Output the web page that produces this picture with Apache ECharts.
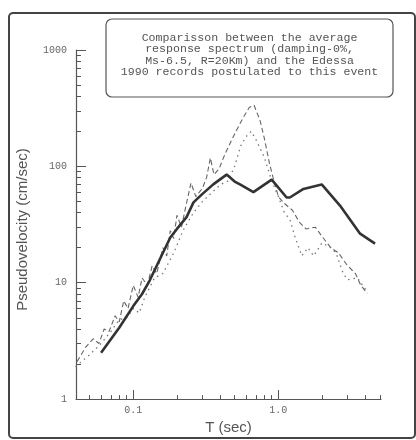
<!DOCTYPE html>
<html>
<head>
<meta charset="utf-8">
<script src="https://cdn.jsdelivr.net/npm/echarts@6/dist/echarts.min.js"></script>
<style>
html, body { margin: 0; padding: 0; background: #fff; }
#main { width: 416px; height: 440px; }
</style>
</head>
<body>
<div id="main"></div>
<script>
// average response spectrum (solid)
var avgPeriods = [0.060, 0.080, 0.100, 0.115, 0.130, 0.149, 0.180, 0.200, 0.233, 0.260, 0.300, 0.356, 0.440, 0.500, 0.544, 0.673, 0.900, 1.140, 1.200, 1.490, 1.990, 2.660, 3.660, 4.640];
var avgVel = [2.5, 4.1, 6.3, 8.0, 10.5, 15.0, 24.5, 29.0, 36.6, 49.0, 58.0, 70.0, 85.0, 74.0, 70.0, 60.0, 77.0, 54.0, 54.0, 64.0, 70.0, 46.0, 26.4, 21.7];

// Edessa 1990 record, first component (dashed)
var recAPeriods = [0.041, 0.047, 0.053, 0.058, 0.063, 0.068, 0.075, 0.080, 0.086, 0.092, 0.100, 0.108, 0.115, 0.125, 0.135, 0.145, 0.160, 0.170, 0.180, 0.190, 0.200, 0.215, 0.230, 0.250, 0.270, 0.300, 0.320, 0.340, 0.360, 0.390, 0.420, 0.450, 0.500, 0.570, 0.630, 0.680, 0.720, 0.750, 0.800, 0.870, 0.920, 1.000, 1.100, 1.250, 1.400, 1.550, 1.800, 2.000, 2.300, 2.600, 3.000, 3.400, 3.700, 4.100];
var recAVel = [2.1, 2.8, 3.3, 3.0, 4.0, 3.8, 5.2, 4.6, 7.0, 6.0, 9.5, 7.5, 11, 9.5, 14, 12, 20, 17, 28, 24, 38, 30, 45, 72, 55, 65, 80, 118, 85, 95, 120, 145, 190, 260, 320, 335, 280, 245, 175, 105, 80, 55, 48, 42, 33, 29, 30, 25, 20, 18, 14, 12, 9.5, 8.1];

// Edessa 1990 record, second component (dotted)
var recBPeriods = [0.040, 0.050, 0.060, 0.070, 0.080, 0.090, 0.100, 0.110, 0.120, 0.140, 0.160, 0.190, 0.220, 0.260, 0.300, 0.350, 0.400, 0.450, 0.500, 0.550, 0.600, 0.650, 0.700, 0.800, 0.900, 1.000, 1.100, 1.200, 1.300, 1.450, 1.600, 1.750, 2.000, 2.300, 2.500, 2.800, 3.000, 3.500, 4.100];
var recBVel = [1.9, 2.4, 3.0, 3.8, 4.8, 5.0, 6.0, 5.5, 7.5, 11, 12, 18, 28, 40, 50, 60, 70, 75, 100, 150, 180, 200, 170, 120, 75, 55, 40, 35, 25, 17, 20, 17, 22, 20, 18, 12, 10.6, 11, 8.4];

// ticks and labels
var xMajorTicks = [0.1, 1];
var xMinorTicks = [0.05, 0.06, 0.07, 0.08, 0.09, 0.2, 0.3, 0.4, 0.5, 0.6, 0.7, 0.8, 0.9, 2, 3, 4, 5];
var yMajorTicks = [1, 10, 100, 1000];
var yMinorTicks = [2, 3, 4, 5, 6, 7, 8, 9, 20, 30, 40, 50, 60, 70, 80, 90, 200, 300, 400, 500, 600, 700, 800, 900];

var titleLines = [
	'Comparisson between the average',
	'response spectrum (damping-0%,',
	'Ms-6.5, R=20Km) and the Edessa',
	'1990 records postulated to this event'
];

function pairs(xs, ys) {
	return xs.map(function(x, i) {
		return [x, ys[i]];
	});
}

var xMin = 0.0403, xMax = 5.1;
var monoFont = '"Liberation Mono", "DejaVu Sans Mono", monospace';
var sansFont = '"Liberation Sans", Arial, sans-serif';

function logAxis(pos, min, max, ticks, tickLen, showLine, showLabel) {
	return {
		type: 'log',
		position: pos,
		min: min,
		max: max,
		logBase: 10,
		axisLine: { show: showLine, lineStyle: { color: '#555', width: 1.2 } },
		axisTick: { show: true, inside: true, length: tickLen, customValues: ticks, lineStyle: { color: '#555', width: 1 } },
		axisLabel: { show: showLabel, customValues: ticks, color: '#666', fontFamily: monoFont, fontSize: 10 },
		splitLine: { show: false },
		minorTick: { show: false }
	};
}

var xMain = logAxis('bottom', xMin, xMax, xMajorTicks, 9, true, true);
xMain.axisLabel.margin = 6;
xMain.axisLabel.formatter = function(v) { return Number(v).toFixed(1); };
xMain.name = 'T (sec)';
xMain.nameLocation = 'middle';
xMain.nameGap = 16;
xMain.nameTextStyle = { color: '#555', fontFamily: sansFont, fontSize: 15 };
var xMinor = logAxis('bottom', xMin, xMax, xMinorTicks, 4, false, false);

var yMain = logAxis('left', 1, 1000, yMajorTicks, 10, true, true);
yMain.axisLabel.margin = 9;
yMain.axisLabel.formatter = function(v) { return String(Math.round(v)); };
yMain.name = 'Pseudovelocity (cm/sec)';
yMain.nameLocation = 'middle';
yMain.nameRotate = 90;
yMain.nameGap = 46;
yMain.nameTextStyle = { color: '#555', fontFamily: sansFont, fontSize: 15, padding: [0, 10, 0, 0] };
var yMinor = logAxis('left', 1, 1000, yMinorTicks, 5, false, false);

var chart = echarts.init(document.getElementById('main'));
chart.setOption({
	backgroundColor: '#fff',
	animation: false,
	grid: { left: 76, right: 35, top: 50, bottom: 36 },
	xAxis: [xMain, xMinor],
	yAxis: [yMain, yMinor],
	graphic: [{
		type: 'rect',
		shape: { x: 9, y: 13, width: 406, height: 425, r: 4 },
		style: { fill: 'none', stroke: '#444', lineWidth: 2 },
		silent: true
	}, {
		type: 'rect',
		shape: { x: 106, y: 19, width: 287, height: 78, r: 6 },
		style: { fill: '#fff', stroke: '#555', lineWidth: 1.2 },
		silent: true
	}, {
		type: 'text',
		x: 249.5,
		y: 55,
		style: {
			text: titleLines.join('\n'),
			align: 'center',
			verticalAlign: 'middle',
			fill: '#555',
			font: '11.6px ' + monoFont,
			lineHeight: 11.5
		},
		silent: true
	}],
	series: [{
		name: 'record A',
		type: 'line',
		data: pairs(recAPeriods, recAVel),
		showSymbol: false,
		lineStyle: { color: '#666', width: 1.1, type: [5, 3] },
		z: 2
	}, {
		name: 'record B',
		type: 'line',
		data: pairs(recBPeriods, recBVel),
		showSymbol: false,
		lineStyle: { color: '#777', width: 1.3, type: [1.5, 4] },
		z: 2
	}, {
		name: 'average',
		type: 'line',
		data: pairs(avgPeriods, avgVel),
		showSymbol: false,
		lineStyle: { color: '#333', width: 2.6 },
		z: 3
	}]
});
</script>
</body>
</html>
